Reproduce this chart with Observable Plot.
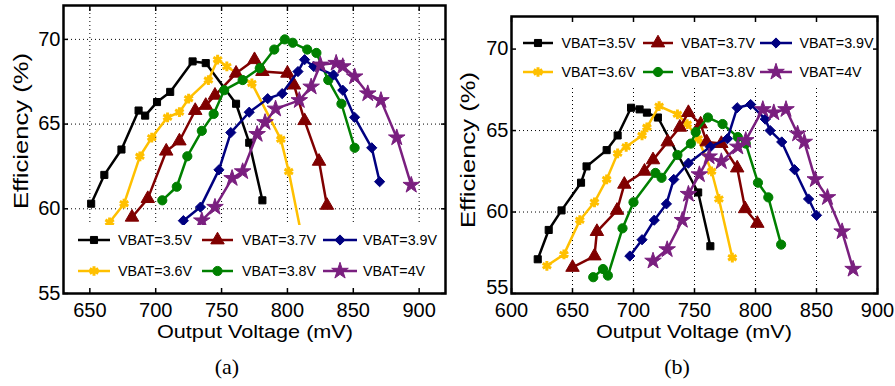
<!DOCTYPE html>
<html><head><meta charset="utf-8">
<script src="https://cdn.jsdelivr.net/npm/d3@7"></script>
<script src="https://cdn.jsdelivr.net/npm/@observablehq/plot@0.6"></script>
<style>
body{margin:0;background:#fff}
#wrap{position:relative;width:895px;height:386px;background:#fff;overflow:hidden;font-family:"Liberation Sans",Arial,sans-serif}
.panel{position:absolute;top:0}
.cap{position:absolute;top:354px;width:100px;text-align:center;font:22px "Liberation Serif","Times New Roman",serif;color:#000}
</style></head><body>
<div id="wrap">
<div id="pa" class="panel" style="left:0"></div>
<div id="pb" class="panel" style="left:450px"></div>
<div class="cap" style="left:177px">(a)</div>
<div class="cap" style="left:627px">(b)</div>
</div>
<script>
// ---- series definitions ----
const seriesNames = ["VBAT=3.5V","VBAT=3.6V","VBAT=3.7V","VBAT=3.8V","VBAT=3.9V","VBAT=4V"];
const seriesColors = ["#000000","#ffc000","#800000","#008000","#000080","#7a1f7f"];
const seriesSymbols = ["square","asterisk","triangle","circle","diamond2","star"];
const seriesRadius = [4,4.6,5,4.6,4.6,5.2];
const legendOrder = [0,2,4,1,3,5];
const xLabel = "Output Voltage (mV)";
const yLabel = "Efficiency (%)";

// ---- panel (a): [output voltage mV, efficiency %] ----
const a35 = [[651,60.3],[661,62.0],[674,63.5],[687,65.8],[692,65.5],[701,66.3],[711,66.9],[728,68.7],[738,68.6],[761,66.2],[771,63.9],[781,60.5]];
const a36 = [[665,59.2],[676,60.3],[688,63.1],[697,64.2],[709,65.4],[718,65.7],[725,66.5],[740,67.6],[747,68.8],[754,68.4],[773,67.4],[795,64.1],[801,62.2],[810,58.7]];
const a37 = [[682,59.5],[694,60.6],[708,63.4],[718,64.0],[730,65.8],[738,66.1],[745,66.7],[761,68.0],[775,68.8],[781,68.1],[800,68.0],[805,67.3],[813,65.2],[824,62.8],[830,60.2]];
const a38 = [[705,60.5],[716,61.3],[724,63.1],[735,64.6],[744,65.6],[752,67.0],[766,67.6],[779,68.3],[790,69.4],[798,70.0],[804,69.8],[815,69.4],[822,69.2],[831,67.6],[841,66.2],[851,63.6]];
const a39 = [[721,59.3],[734,60.1],[748,62.3],[757,64.5],[771,65.7],[785,66.5],[796,66.8],[808,68.1],[813,68.8],[820,68.4],[835,67.9],[842,67.0],[851,65.4],[864,63.6],[870,61.6]];
const a40 = [[735,59.3],[745,60.1],[758,61.8],[766,62.2],[777,64.4],[783,65.1],[791,65.9],[809,66.4],[818,67.2],[825,68.5],[837,68.6],[842,68.4],[851,67.8],[861,66.8],[871,66.4],[883,64.2],[894,61.4]];

// ---- panel (b) ----
const b35 = [[621.5,57.1],[630.5,58.9],[641,60.1],[657,61.8],[661.5,62.8],[678,63.8],[687,64.7],[698,66.4],[705,66.3],[711,66.1],[720,65.8],[753,61.2],[763,57.9]];
const b36 = [[629,56.7],[643,57.4],[656,59.5],[668,60.6],[678,62.0],[687,63.6],[694,64.0],[707,64.7],[711,65.2],[721,66.5],[736,66.0],[744,65.4],[753,64.5],[764,62.5],[770,60.8],[781,57.2]];
const b37 = [[650,56.6],[668,57.3],[670,58.8],[686.5,60.1],[692.5,61.7],[709,62.5],[716,63.2],[728,64.3],[738,65.2],[745,66.1],[755,65.4],[760,64.3],[772,64.2],[785,62.7],[791.5,60.2],[801.5,59.3]];
const b38 = [[667,56.0],[675,56.5],[679,56.1],[691,59.0],[700,60.6],[718,62.4],[723,62.1],[736,63.5],[747,64.2],[751,64.9],[761,65.8],[773,65.4],[785.5,64.6],[792,64.2],[802,61.8],[810.5,60.9],[821,58.0]];
const b39 = [[697,57.3],[707,58.3],[717,59.5],[727,60.5],[733,62.0],[745,63.0],[763,64.0],[777,64.5],[785,66.4],[796,66.6],[808,65.7],[812,65.0],[821.5,64.3],[832,62.6],[843.5,60.8],[850,59.8]];
const b40 = [[716,57.0],[727.6,57.7],[740,59.5],[745,61.1],[754,62.3],[762,63.4],[772,63.1],[785.5,64.0],[792,64.4],[806,66.3],[815,66.1],[825,66.3],[834.5,64.8],[840,64.3],[849,62.0],[859,60.9],[871,58.8],[880,56.5]];

// ---- ticks ----
const aXTicks = [650,700,750,800,850,900];
const bXTicks = [600,650,700,750,800,850,900];
const yTicks = [55,60,65,70];

const symbolMap = {square:d3.symbolSquare, asterisk:d3.symbolAsterisk, triangle:d3.symbolTriangle,
  circle:d3.symbolCircle, diamond2:d3.symbolDiamond2, star:d3.symbolStar};
const FONT = "Liberation Sans, Arial, sans-serif";

function legendMark(cfg) {
  return () => {
    const g = d3.create("svg:g");
    g.append("rect").attr("x", cfg.x).attr("y", cfg.y).attr("width", cfg.w).attr("height", cfg.h).attr("fill", "#fff");
    legendOrder.forEach((si, k) => {
      const row = Math.floor(k / 3), col = k % 3;
      const cy = cfg.rows[row];
      const [x1, x2, tx] = cfg.cols[col];
      const c = seriesColors[si];
      g.append("line").attr("x1", x1).attr("x2", x2).attr("y1", cy).attr("y2", cy)
        .attr("stroke", c).attr("stroke-width", 2.5);
      const r = seriesRadius[si];
      const p = g.append("path").attr("transform", `translate(${(x1 + x2) / 2},${cy})`)
        .attr("d", d3.symbol(symbolMap[seriesSymbols[si]], Math.PI * r * r)());
      if (seriesSymbols[si] === "asterisk") p.attr("fill", "none").attr("stroke", c).attr("stroke-width", 3);
      else p.attr("fill", c).attr("stroke", c).attr("stroke-width", 1);
      g.append("text").attr("x", tx).attr("y", cy).attr("dy", "0.36em")
        .attr("text-anchor", "start")
        .attr("font-size", 14.3).attr("fill", "#000").attr("font-family", FONT)
        .text(seriesNames[si]);
    });
    return g.node();
  };
}

function axisLabelsMark(cfg) {
  return () => {
    const g = d3.create("svg:g").attr("font-family", FONT).attr("fill", "#000");
    g.append("text").attr("transform", `translate(${cfg.yx},${cfg.yy}) rotate(-90)`)
      .attr("text-anchor", "middle").attr("dy", "0.36em").attr("font-size", 21)
      .attr("textLength", 156).attr("lengthAdjust", "spacingAndGlyphs")
      .text(yLabel);
    g.append("text").attr("x", cfg.xx).attr("y", 337.5)
      .attr("text-anchor", "middle").attr("font-size", 19)
      .attr("textLength", 196).attr("lengthAdjust", "spacingAndGlyphs")
      .text(xLabel);
    return g.node();
  };
}

function panel({data, xDomain, xTicks, xGrid, yGrid, width, marginLeft, marginRight, marginTop, legend, labels, lowDy}) {
  const seriesMarks = [];
  data.forEach((arr, i) => {
    seriesMarks.push(Plot.line(arr, {x: d => d[0], y: d => d[1], stroke: seriesColors[i], strokeWidth: 2.5}));
    const sym = seriesSymbols[i];
    seriesMarks.push(Plot.dot(arr, {x: d => d[0], y: d => d[1], symbol: sym, r: seriesRadius[i],
      fill: sym === "asterisk" ? "none" : seriesColors[i], stroke: seriesColors[i], strokeWidth: sym === "asterisk" ? 3 : 1}));
  });
  return Plot.plot({
    width, height: 345, marginLeft, marginRight, marginTop, marginBottom: 52,
    style: {fontFamily: FONT, fontSize: "20px", color: "#000", background: "transparent", overflow: "visible"},
    x: {domain: xDomain},
    y: {domain: [55, 72]},
    marks: [
      Plot.gridX(xGrid, {stroke: "#000", strokeOpacity: 1, strokeWidth: 1, strokeDasharray: "1,3"}),
      Plot.gridY(yGrid, {stroke: "#000", strokeOpacity: 1, strokeWidth: 1, strokeDasharray: "1,3"}),
      ...seriesMarks,
      legendMark(legend),
      Plot.axisX(xTicks, {anchor: "bottom", tickSize: 0, tickPadding: 8.8, fontSize: 20, label: null}),
      Plot.axisX(xTicks, {anchor: "bottom", tickSize: -5, tickFormat: () => "", label: null, strokeWidth: 1.5}),
      Plot.axisX(xTicks, {anchor: "top", tickSize: -5, tickFormat: () => "", label: null, strokeWidth: 1.5}),
      Plot.axisY(yTicks.slice(1), {anchor: "left", tickSize: 0, tickPadding: 3, fontSize: 20, label: null}),
      Plot.axisY(yTicks.slice(0, 1), {anchor: "left", tickSize: 0, tickPadding: 3, fontSize: 20, dy: lowDy, label: null}),
      Plot.axisY(yTicks, {anchor: "left", tickSize: -5, tickFormat: () => "", label: null, strokeWidth: 1.5}),
      Plot.axisY(yTicks, {anchor: "right", tickSize: -5, tickFormat: () => "", label: null, strokeWidth: 1.5}),
      axisLabelsMark(labels),
      Plot.frame({stroke: "#000", strokeWidth: 2.5})
    ]
  });
}

document.getElementById("pa").append(panel({
  data: [a35, a36, a37, a38, a39, a40],
  xDomain: [630, 920], xTicks: aXTicks, xGrid: aXTicks, yGrid: [60, 65, 70],
  width: 450, marginLeft: 63, marginRight: 5, marginTop: 5, lowDy: 0,
  legend: {x: 66, y: 225, w: 377, h: 66, rows: [240, 271], cols: [[78, 110, 118], [202, 233, 242], [323, 357, 363]]},
  labels: {yx: 20, yy: 131, xx: 255}
}));
document.getElementById("pb").append(panel({
  data: [b35, b36, b37, b38, b39, b40],
  xDomain: [600, 900], xTicks: bXTicks, xGrid: [650, 700, 750, 800, 850], yGrid: [60, 65, 70],
  width: 445, marginLeft: 61, marginRight: 18, marginTop: 16, lowDy: -6,
  legend: {x: 64, y: 22, w: 362, h: 66, rows: [43, 72], cols: [[73, 103, 111.5], [193, 223, 231], [310, 342, 349.5]]},
  labels: {yx: 17, yy: 150, xx: 244}
}));
</script></body></html>
